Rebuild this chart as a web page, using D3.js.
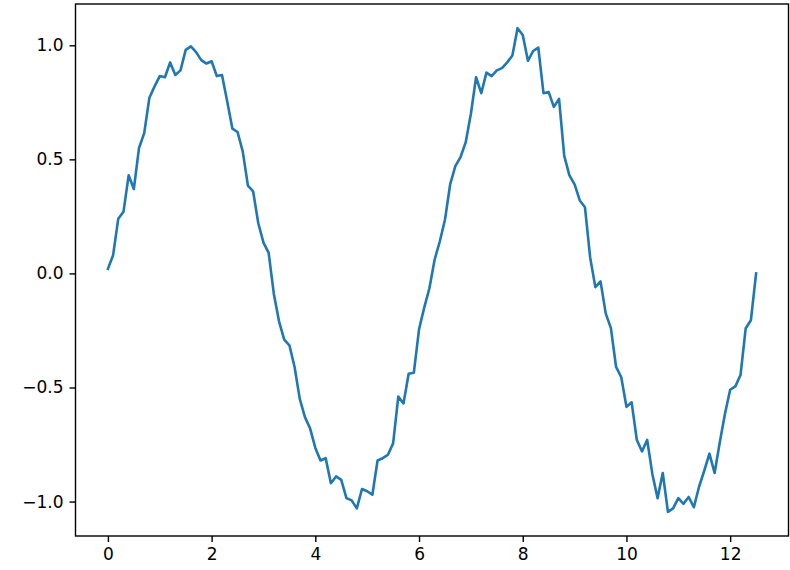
<!DOCTYPE html>
<meta charset="utf-8">
<style>
body { margin: 0; background: #fff; }
svg { display: block; }
.axis text { font: 17px "DejaVu Sans", sans-serif; fill: #000; }
.axis path { display: none; }
.axis line { stroke: #000; stroke-width: 1.4px; }
.frame { fill: none; stroke: #000; stroke-width: 1.4px; }
.line { fill: none; stroke: #1f77b4; stroke-width: 2.6px; stroke-linejoin: round; stroke-linecap: square; }
</style>
<svg width="790" height="570"></svg>
<script src="https://d3js.org/d3.v7.min.js"></script>
<script>

// sample positions: 0, 0.1, ... 12.5
var xStep = 0.1;

// y values, one per sample
var yValues = [
  0.02, 0.08, 0.24, 0.27, 0.43, 0.37, 0.55, 0.615, 0.77, 0.82,
  0.865, 0.86, 0.925, 0.87, 0.89, 0.98, 0.995, 0.97, 0.935, 0.92,
  0.93, 0.865, 0.87, 0.755, 0.635, 0.62, 0.535, 0.385, 0.36, 0.22,
  0.135, 0.09, -0.09, -0.21, -0.29, -0.315, -0.41, -0.55, -0.63, -0.68,
  -0.765, -0.82, -0.81, -0.92, -0.89, -0.905, -0.985, -0.995, -1.03, -0.945,
  -0.955, -0.97, -0.82, -0.81, -0.795, -0.745, -0.54, -0.57, -0.44, -0.435,
  -0.245, -0.15, -0.065, 0.06, 0.14, 0.235, 0.39, 0.47, 0.51, 0.575,
  0.70, 0.86, 0.79, 0.88, 0.865, 0.89, 0.90, 0.925, 0.955, 1.075,
  1.045, 0.932, 0.975, 0.99, 0.79, 0.795, 0.73, 0.765, 0.515, 0.43,
  0.39, 0.32, 0.29, 0.07, -0.06, -0.035, -0.175, -0.24, -0.41, -0.455,
  -0.585, -0.565, -0.73, -0.78, -0.73, -0.88, -0.985, -0.875, -1.045, -1.03,
  -0.985, -1.01, -0.98, -1.025, -0.935, -0.865, -0.79, -0.875, -0.74, -0.615,
  -0.51, -0.495, -0.445, -0.24, -0.205, 0.0
];

var xTicks = [0, 2, 4, 6, 8, 10, 12];
var yTicks = [-1.0, -0.5, 0.0, 0.5, 1.0];

var data = yValues.map(function(v, i) { return { x: i * xStep, y: v }; });

var svg = d3.select("svg"),
    margin = { top: 4, right: 1.5, bottom: 34, left: 75.5 },
    width = +svg.attr("width") - margin.left - margin.right,
    height = +svg.attr("height") - margin.top - margin.bottom;

// matplotlib style 5% margins round the data
function padded(ext) {
  var p = (ext[1] - ext[0]) * 0.05;
  return [ext[0] - p, ext[1] + p];
}

var x = d3.scaleLinear()
    .domain(padded(d3.extent(data, function(d) { return d.x; })))
    .range([0, width]);

var y = d3.scaleLinear()
    .domain(padded(d3.extent(data, function(d) { return d.y; })))
    .range([height, 0]);

var g = svg.append("g")
    .attr("transform", "translate(" + margin.left + "," + margin.top + ")");

g.append("g")
    .attr("class", "axis")
    .attr("transform", "translate(0," + height + ")")
    .call(d3.axisBottom(x).tickValues(xTicks).tickSize(6).tickPadding(6).tickFormat(d3.format("d")));

g.append("g")
    .attr("class", "axis")
    .call(d3.axisLeft(y).tickValues(yTicks).tickSize(6).tickPadding(6).tickFormat(d3.format(".1f")));

g.append("path")
    .datum(data)
    .attr("class", "line")
    .attr("d", d3.line()
        .x(function(d) { return x(d.x); })
        .y(function(d) { return y(d.y); }));

g.append("rect")
    .attr("class", "frame")
    .attr("width", width)
    .attr("height", height);

</script>
